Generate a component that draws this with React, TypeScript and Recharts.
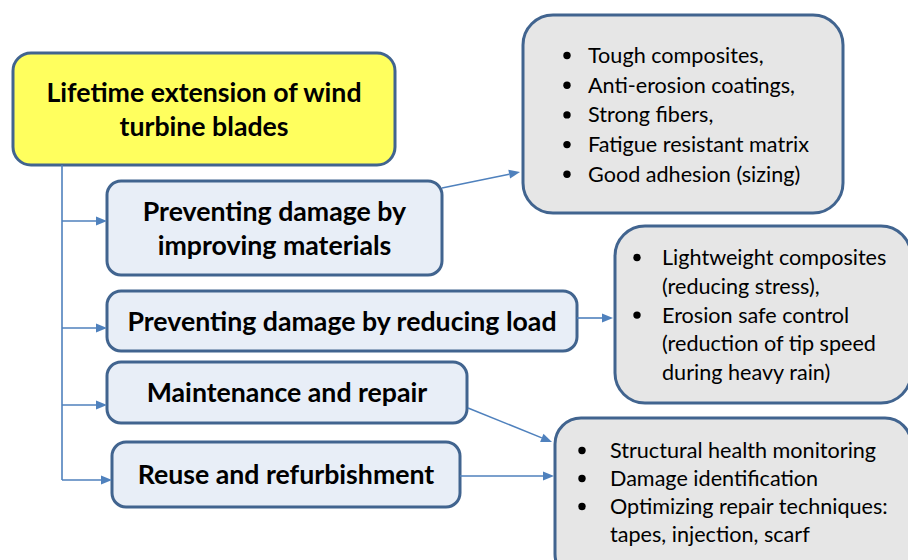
import React from "react";
import { ScatterChart, Scatter, XAxis, YAxis, ReferenceArea, ReferenceLine } from "recharts";

// text content
const titleLines = ["Lifetime extension of wind", "turbine blades"];
const branchLabels = [
  ["Preventing damage by", "improving materials"],
  ["Preventing damage by reducing load"],
  ["Maintenance and repair"],
  ["Reuse and refurbishment"],
];
const materialItems = [
  ["Tough composites,"],
  ["Anti-erosion coatings,"],
  ["Strong fibers,"],
  ["Fatigue resistant matrix"],
  ["Good adhesion (sizing)"],
];
const loadItems = [
  ["Lightweight composites", "(reducing stress),"],
  ["Erosion safe control", "(reduction of tip speed", "during heavy rain)"],
];
const repairItems = [
  ["Structural health monitoring"],
  ["Damage identification"],
  ["Optimizing repair techniques:", "tapes, injection, scarf"],
];

// layout in page pixels (axis domain == page size)
const W = 908;
const H = 560;
const titleBox = { x1: 13, x2: 395, y1: 53, y2: 165 };
const branchBoxes = [
  { x1: 107, x2: 442, y1: 181, y2: 275 },
  { x1: 107, x2: 577, y1: 291, y2: 351 },
  { x1: 107, x2: 467, y1: 362, y2: 423 },
  { x1: 112, x2: 460, y1: 442, y2: 507 },
];
const detailBoxes = [
  { x1: 523, x2: 843, y1: 15, y2: 213, r: 30, bullet: 44, text: 65, first: 48, step: 29.7, items: materialItems },
  { x1: 615, x2: 911, y1: 226, y2: 403, r: 30, bullet: 22, text: 47, first: 39, step: 28.8, items: loadItems },
  { x1: 555, x2: 911, y1: 418, y2: 580, r: 26, bullet: 27, text: 55, first: 40, step: 28, items: repairItems },
];
const trunk = { x: 62, y1: 165, y2: 480 };
const branchArrowY = [221, 328, 405, 480];
const detailArrows = [
  { from: { x: 442, y: 188 }, to: { x: 520, y: 172 } },
  { from: { x: 577, y: 318 }, to: { x: 613, y: 318 } },
  { from: { x: 468, y: 408 }, to: { x: 552, y: 442 } },
  { from: { x: 460, y: 476 }, to: { x: 554, y: 476 } },
];

const FONT = "Lato, 'Noto Sans', sans-serif";
const BORDER = "#41648F";
const LINK = "#4F81BD";

function Arrow(props: any) {
  const { x1, y1, x2, y2, head } = props;
  const ang = Math.atan2(y2 - y1, x2 - x1);
  const len = 11;
  const hw = 4.5;
  const bx = x2 - len * Math.cos(ang);
  const by = y2 - len * Math.sin(ang);
  const px = -Math.sin(ang) * hw;
  const py = Math.cos(ang) * hw;
  return (
    <g>
      <line x1={x1} y1={y1} x2={head ? bx : x2} y2={head ? by : y2} stroke={LINK} strokeWidth={1.6} />
      {head && (
        <polygon points={`${x2},${y2} ${bx + px},${by + py} ${bx - px},${by - py}`} fill={LINK} />
      )}
    </g>
  );
}

function LabelBox(props: any) {
  const { x, y, width, height, lines, fill, radius } = props;
  const cx = x + width / 2;
  const cy = y + height / 2;
  return (
    <g>
      <rect x={x} y={y} width={width} height={height} rx={radius} ry={radius} fill={fill} stroke={BORDER} strokeWidth={3} />
      {lines.map((t: string, i: number) => (
        <text
          key={i}
          x={cx}
          y={cy - (lines.length - 1) * 17 + 9.5 + i * 34}
          textAnchor="middle"
          fontFamily={FONT}
          fontWeight={700}
          fontSize={26.7}
          fill="#000"
        >
          {t}
        </text>
      ))}
    </g>
  );
}

function BulletBox(props: any) {
  const { x, y, width, height, box } = props;
  let row = 0;
  const rows: React.ReactNode[] = [];
  box.items.forEach((item: string[], i: number) => {
    item.forEach((t: string, j: number) => {
      const by = y + box.first + row * box.step;
      if (j === 0) {
        rows.push(<circle key={`b${i}`} cx={x + box.bullet} cy={by - 7.5} r={3.7} fill="#000" />);
      }
      rows.push(
        <text key={`t${i}-${j}`} x={x + box.text} y={by} fontFamily={FONT} fontSize={21.6} fill="#000">
          {t}
        </text>
      );
      row++;
    });
  });
  return (
    <g>
      <rect x={x} y={y} width={width} height={height} rx={box.r} ry={box.r} fill="#E6E6E6" stroke={BORDER} strokeWidth={3} />
      {rows}
    </g>
  );
}

const anchors = [titleBox, ...branchBoxes].map((b) => ({ x: (b.x1 + b.x2) / 2, y: (b.y1 + b.y2) / 2 }));

export default function App() {
  return (
    <div style={{ position: "fixed", left: 0, top: 0, width: W, height: H, overflow: "hidden", background: "#fff" }}>
      <ScatterChart width={W} height={H} margin={{ top: 0, right: 0, bottom: 0, left: 0 }}>
        <XAxis type="number" dataKey="x" domain={[0, W]} hide allowDataOverflow />
        <YAxis type="number" dataKey="y" domain={[0, H]} reversed hide allowDataOverflow />
        <Scatter data={anchors} isAnimationActive={false} shape={() => <g />} />

        <ReferenceLine
          segment={[{ x: trunk.x, y: trunk.y1 }, { x: trunk.x, y: trunk.y2 }]}
          shape={(p: any) => <Arrow {...p} head={false} />}
        />
        {branchArrowY.map((yy, i) => (
          <ReferenceLine
            key={`ba${i}`}
            segment={[{ x: trunk.x, y: yy }, { x: branchBoxes[i].x1, y: yy }]}
            shape={(p: any) => <Arrow {...p} head />}
          />
        ))}
        {detailArrows.map((a, i) => (
          <ReferenceLine key={`da${i}`} segment={[a.from, a.to]} shape={(p: any) => <Arrow {...p} head />} />
        ))}

        <ReferenceArea
          x1={titleBox.x1}
          x2={titleBox.x2}
          y1={titleBox.y1}
          y2={titleBox.y2}
          ifOverflow="visible"
          shape={(p: any) => <LabelBox {...p} lines={titleLines} fill="#FFFF5E" radius={18} />}
        />
        {branchBoxes.map((b, i) => (
          <ReferenceArea
            key={`bb${i}`}
            x1={b.x1}
            x2={b.x2}
            y1={b.y1}
            y2={b.y2}
            ifOverflow="visible"
            shape={(p: any) => <LabelBox {...p} lines={branchLabels[i]} fill="#E8EEF7" radius={14} />}
          />
        ))}
        {detailBoxes.map((b, i) => (
          <ReferenceArea
            key={`db${i}`}
            x1={b.x1}
            x2={b.x2}
            y1={b.y1}
            y2={b.y2}
            ifOverflow="visible"
            shape={(p: any) => <BulletBox {...p} box={b} />}
          />
        ))}
      </ScatterChart>
    </div>
  );
}
